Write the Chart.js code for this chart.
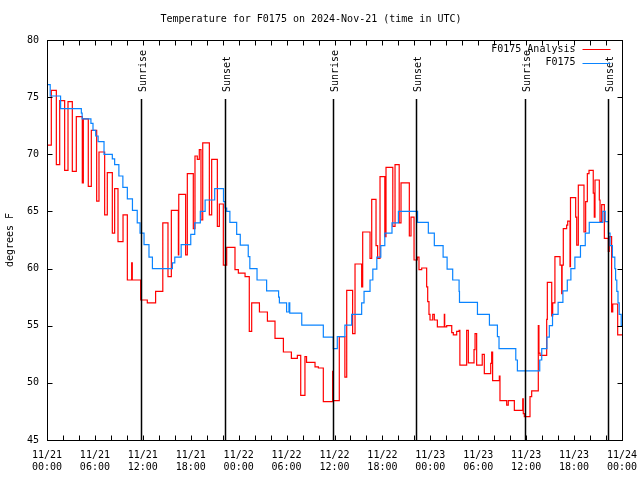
<!DOCTYPE html>
<html>
<head>
<meta charset="utf-8">
<script src="https://cdn.jsdelivr.net/npm/chart.js@4"></script>
<style>
  body { margin: 0; background: #fff; }
</style>
</head>
<body>
<canvas id="tempChart" width="640" height="480"></canvas>
<script>
// hours since 2024-11-21 00:00 UTC, value held until next point
const analysisHours = [0, 0.05, 0.54, 1.17, 1.59, 2.21, 2.63, 3.17, 3.67, 4.42, 4.55, 5.17, 5.55, 6.22, 6.51, 7.22, 7.55, 8.18, 8.47, 8.89,
  9.52, 10.06, 10.6, 10.68, 11.73, 12.56, 13.6, 14.5, 15.15, 15.57, 16.45, 16.5, 17.36, 17.57, 18.32, 18.53, 18.82, 19.07, 19.28, 19.5,
  20.33, 20.62, 21.33, 21.58, 22.08, 22.5, 23.54, 23.96, 24.8, 25.33, 25.63, 26.6, 27.6, 28.55, 29.6, 30.6, 31.35, 31.77, 32.3, 32.5,
  33.56, 33.98, 34.6, 35.77, 35.85, 36.6, 37.3, 37.53, 38.27, 38.57, 39.4, 39.53, 40.45, 40.66, 41.2, 41.4, 41.7, 42.3, 42.45, 43.3,
  43.58, 44.1, 44.33, 45.37, 45.58, 45.96, 46.37, 46.58, 46.92, 47.54, 47.67, 47.83, 47.96, 48.3, 48.5, 48.88, 49.75, 49.8, 50.05, 50.68,
  50.88, 51.3, 51.6, 51.7, 52.55, 52.76, 53.47, 53.6, 53.8, 54.5, 54.76, 55.56, 55.68, 55.8, 56.64, 56.72, 57.56, 57.76, 58.52, 59.57,
  59.64, 59.77, 60.48, 60.69, 61.52, 61.6, 61.73, 62.57, 62.65, 63.2, 63.32, 63.6, 64.24, 64.45, 64.5, 64.65, 65.07, 65.2, 65.49, 65.55,
  66.2, 66.33, 66.53, 67.24, 67.45, 67.66, 67.87, 68.4, 68.53, 68.62, 69.16, 69.25, 69.46, 69.79, 70.29, 70.4, 70.7, 70.84, 71.46, 72];
const analysisTemps = [77.4, 70.8, 75.6, 69.1, 74.7, 68.6, 74.6, 68.5, 73.3, 67.5, 73.1, 67.2, 72.1, 65.9, 70.2, 64.7, 68.4, 63.1, 67.0, 62.35,
  64.7, 59.0, 60.5, 59.0, 57.25, 57.0, 58.0, 64.0, 59.3, 65.1, 61.2, 66.5, 61.2, 68.3, 63.5, 69.85, 69.55, 70.4, 64.25, 71.0,
  64.7, 69.55, 63.7, 65.65, 60.3, 61.85, 59.9, 59.6, 59.3, 54.5, 57.0, 56.2, 55.4, 53.9, 52.7, 52.15, 52.4, 48.9, 52.3, 51.8,
  51.4, 51.3, 48.35, 51.0, 48.45, 54.05, 50.5, 58.1, 54.3, 60.4, 58.4, 63.2, 60.9, 66.05, 62.0, 60.9, 68.05, 62.8, 68.85, 63.7,
  69.1, 64.0, 67.5, 62.85, 64.5, 60.75, 61.0, 59.9, 60.05, 58.4, 57.1, 56.0, 55.5, 56.0, 55.5, 54.9, 56.0, 54.9, 55.0, 54.4,
  54.2, 54.5, 54.6, 51.55, 54.6, 51.75, 52.9, 54.3, 51.55, 52.5, 50.8, 51.7, 52.7, 50.2, 50.6, 48.45, 48.06, 48.45, 47.6, 48.6,
  47.3, 47.05, 48.8, 49.3, 55.0, 52.6, 52.4, 55.55, 58.8, 55.85, 57.0, 61.04, 60.3, 57.8, 60.3, 63.5, 63.8, 64.15, 60.16, 66.2,
  64.5, 62.06, 67.3, 63.2, 65.85, 68.3, 68.6, 66.6, 64.5, 67.75, 66.0, 64.1, 65.6, 62.65, 61.5, 62.8, 56.2, 56.9, 54.2, 54.2];

const obsHours = [0, 0.4, 1.7, 4.3, 4.4, 5.5, 5.76, 6.1, 6.4, 7.14, 8.18, 8.47, 9.0, 9.5, 10.06, 10.7, 11.3, 11.65, 12.15, 12.77,
  13.2, 15.7, 16.0, 16.8, 18.0, 18.5, 19.2, 19.8, 21.0, 22.1, 22.3, 22.5, 22.9, 23.75, 24.2, 25.2, 25.4, 26.3, 27.5, 29.0,
  29.1, 30.0, 30.3, 30.4, 31.9, 34.6, 35.85, 36.35, 37.3, 38.15, 39.4, 39.7, 40.45, 40.8, 41.3, 41.8, 42.3, 43.2, 44.0, 46.4,
  47.75, 48.5, 49.6, 50.1, 50.8, 51.6, 51.65, 53.9, 55.4, 56.4, 56.6, 58.7, 58.9, 61.7, 61.95, 62.6, 62.9, 63.3, 64.0, 64.6,
  65.15, 65.6, 66.1, 66.8, 67.4, 67.9, 69.6, 69.9, 70.3, 70.5, 70.8, 71.1, 71.2, 71.35, 71.5, 71.65, 71.9, 72];
const obsTemps = [76.1, 75.1, 74.0, 73.6, 73.1, 72.7, 72.1, 71.6, 71.1, 70.0, 69.6, 69.1, 68.1, 67.1, 66.1, 65.1, 64.0, 63.1, 62.1, 61.0,
  60.0, 60.5, 61.0, 62.1, 63.0, 64.0, 65.0, 66.0, 67.0, 65.85, 65.3, 65.0, 64.05, 63.0, 62.06, 61.04, 60.0, 59.0, 58.04, 57.5,
  57.0, 56.2, 57.0, 56.1, 55.06, 54.0, 53.0, 54.05, 55.06, 56.0, 57.0, 58.0, 59.0, 59.96, 61.0, 62.0, 63.1, 64.0, 65.0, 64.05,
  63.1, 62.0, 61.0, 59.96, 59.0, 58.0, 57.05, 56.0, 55.06, 54.05, 53.0, 52.0, 51.04, 52.0, 53.0, 54.0, 55.0, 56.0, 57.05, 58.04,
  59.0, 60.0, 61.0, 62.0, 63.1, 64.05, 65.0, 64.1, 63.1, 62.0, 61.0, 60.0, 59.0, 58.0, 57.0, 56.0, 55.0, 55.0];

const sunHours = [11.77, 22.29, 35.85, 46.21, 59.89, 70.29];
const sunLabels = ['Sunrise', 'Sunset', 'Sunrise', 'Sunset', 'Sunrise', 'Sunset'];

const FONT = '"DejaVu Sans Mono", monospace';
const RED = '#ff0000';
const BLUE = '#0a84ff';

const toPoints = (xs, ys) => xs.map((h, i) => ({ x: h, y: ys[i] }));

// frame, inward ticks, sunrise/sunset markers, legend
const overlay = {
    id: 'overlay',
    afterDatasetsDraw(chart) {
        const { ctx, chartArea: a, scales: { x, y } } = chart;
        const L = Math.round(a.left) + 0.5, R = Math.round(a.right) + 0.5;
        const T = Math.round(a.top) + 0.5, B = Math.round(a.bottom) + 0.5;
        ctx.save();
        ctx.strokeStyle = '#000';
        ctx.lineWidth = 1;
        ctx.beginPath();
        for (let h = 0; h <= 72; h += 2) {
            const px = Math.round(x.getPixelForValue(h)) + 0.5;
            ctx.moveTo(px, B); ctx.lineTo(px, B - 5);
            ctx.moveTo(px, T); ctx.lineTo(px, T + 5);
        }
        for (let v = 45; v <= 80; v += 5) {
            const py = Math.round(y.getPixelForValue(v)) + 0.5;
            ctx.moveTo(L, py); ctx.lineTo(L + 5, py);
            ctx.moveTo(R, py); ctx.lineTo(R - 5, py);
        }
        ctx.stroke();
        ctx.strokeRect(L, T, R - L, B - T);

        // sunrise / sunset
        ctx.lineWidth = 1.5;
        ctx.fillStyle = '#000';
        ctx.font = '10px ' + FONT;
        sunHours.forEach((h, i) => {
            const px = Math.round(x.getPixelForValue(h)) + 0.5;
            ctx.beginPath();
            ctx.moveTo(px, a.top + 59);
            ctx.lineTo(px, a.bottom);
            ctx.stroke();
            ctx.save();
            ctx.translate(px + 1.5, a.top + 52);
            ctx.rotate(-Math.PI / 2);
            ctx.textAlign = 'left';
            ctx.textBaseline = 'middle';
            ctx.fillText(sunLabels[i], 0, 0);
            ctx.restore();
        });

        // legend
        ctx.lineWidth = 1;
        ctx.textAlign = 'right';
        ctx.textBaseline = 'middle';
        chart.data.datasets.forEach((ds, i) => {
            const ly = a.top + 9 + i * 13.5;
            ctx.fillStyle = '#000';
            ctx.fillText(ds.label, R - 47, ly);
            ctx.strokeStyle = ds.borderColor;
            ctx.beginPath();
            ctx.moveTo(R - 40, Math.round(ly) + 0.5);
            ctx.lineTo(R - 12, Math.round(ly) + 0.5);
            ctx.stroke();
        });
        ctx.restore();
    }
};

new Chart(document.getElementById('tempChart'), {
    type: 'line',
    data: {
        datasets: [{
            label: 'F0175 Analysis',
            data: toPoints(analysisHours, analysisTemps),
            borderColor: RED,
            borderWidth: 1.2,
            stepped: true,
            pointRadius: 0,
            fill: false,
            order: 2
        }, {
            label: 'F0175',
            data: toPoints(obsHours, obsTemps),
            borderColor: BLUE,
            borderWidth: 1.2,
            stepped: true,
            pointRadius: 0,
            fill: false,
            order: 1
        }]
    },
    options: {
        responsive: false,
        animation: false,
        layout: { padding: { right: 18 } },
        plugins: {
            legend: { display: false },
            tooltip: { enabled: false },
            title: {
                display: true,
                text: 'Temperature for F0175 on 2024-Nov-21 (time in UTC)',
                color: '#000',
                font: { family: FONT, size: 10, weight: 'normal' },
                padding: { top: 13, bottom: 15 }
            }
        },
        scales: {
            x: {
                type: 'linear',
                min: 0,
                max: 72,
                grid: { display: false, drawTicks: false },
                border: { display: false },
                afterFit: s => { s.height = 40; s.paddingLeft = 0; s.paddingRight = 0; },
                ticks: {
                    stepSize: 6,
                    autoSkip: false,
                    maxRotation: 0,
                    padding: 9,
                    color: '#000',
                    font: { family: FONT, size: 10 },
                    callback: v => {
                        const day = 21 + Math.floor(v / 24);
                        const hr = String(v % 24).padStart(2, '0');
                        return ['11/' + day, hr + ':00'];
                    }
                }
            },
            y: {
                min: 45,
                max: 80,
                grid: { display: false, drawTicks: false },
                border: { display: false },
                afterFit: s => { s.width = 47; },
                title: {
                    display: true,
                    text: 'degrees F',
                    color: '#000',
                    font: { family: FONT, size: 10 },
                    padding: { top: 4, bottom: 4 }
                },
                ticks: {
                    stepSize: 5,
                    padding: 8,
                    color: '#000',
                    font: { family: FONT, size: 10 }
                }
            }
        }
    },
    plugins: [overlay]
});
</script>
</body>
</html>
